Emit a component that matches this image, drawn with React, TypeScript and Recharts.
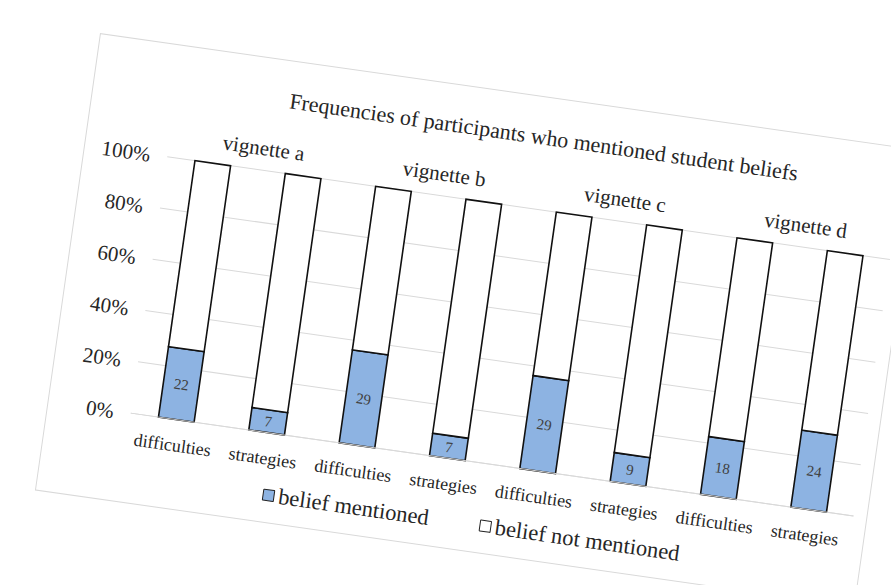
import { BarChart, Bar, XAxis, YAxis, CartesianGrid, LabelList, Legend } from "recharts";

const categories = [
  "difficulties", "strategies", "difficulties", "strategies",
  "difficulties", "strategies", "difficulties", "strategies",
];
const vignettes = [
  "vignette a", "vignette a", "vignette b", "vignette b",
  "vignette c", "vignette c", "vignette d", "vignette d",
];
// participant counts (out of 80)
const mentioned = [22, 7, 29, 7, 29, 9, 18, 24];
const notMentioned = [58, 73, 51, 73, 51, 71, 62, 56];
const yTicks = [0, 0.2, 0.4, 0.6, 0.8, 1];

const data = categories.map((c, i) => ({
  category: c,
  vignette: vignettes[i],
  mentioned: mentioned[i],
  notMentioned: notMentioned[i],
}));

const W = 828;
const H = 462;
const FONT = '"Liberation Serif", serif';
const BLUE = "#8db3e2";
const TEXT = "#262626";
const BAND = (W - 84 - 14) / categories.length;

const VignetteTick = (props: any) => {
  const { x, y, payload, index } = props;
  if (index % 2 !== 0) return <g />;
  return (
    <text x={x + BAND / 2 + 3} y={y} textAnchor="middle" fill={TEXT} fontSize={21} fontFamily={FONT}>
      {payload.value}
    </text>
  );
};

const renderLegend = () => (
  <div
    style={{
      display: "flex",
      alignItems: "center",
      fontFamily: FONT,
      fontSize: 22.5,
      color: TEXT,
      paddingLeft: 226,
    }}
  >
    <span style={{ width: 10, height: 10, background: BLUE, border: "1.5px solid #222", borderRadius: 1, marginRight: 4 }} />
    <span>belief mentioned</span>
    <span style={{ width: 10, height: 10, background: "#fff", border: "1.5px solid #222", borderRadius: 1, marginLeft: 51, marginRight: 4 }} />
    <span>belief not mentioned</span>
  </div>
);

export default function App() {
  return (
    <div
      style={{
        position: "absolute",
        left: 100,
        top: 33,
        width: W,
        height: H,
        transform: "rotate(8.1deg)",
        transformOrigin: "0 0",
        background: "#fff",
        border: "1px solid #d9d9d9",
        boxSizing: "border-box",
        fontFamily: FONT,
      }}
    >
      <div
        style={{
          position: "absolute",
          left: 0,
          width: 2 * 453,
          top: 26,
          textAlign: "center",
          fontSize: 22,
          color: TEXT,
          lineHeight: "28px",
          fontFamily: FONT,
        }}
      >
        Frequencies of participants who mentioned student beliefs
      </div>
      <div style={{ position: "absolute", left: -1, top: -1 }}>
        <BarChart
          width={W}
          height={H}
          data={data}
          stackOffset="expand"
          margin={{ top: 73, right: 14, bottom: 60, left: 0 }}
          style={{ fontFamily: FONT }}
        >
          <CartesianGrid vertical={false} stroke="#d9d9d9" />
          <XAxis
            xAxisId="top"
            orientation="top"
            dataKey="vignette"
            height={40}
            axisLine={false}
            tickLine={false}
            tickSize={0}
            tickMargin={15}
            interval={0}
            tick={<VignetteTick />}
          />
          <XAxis
            dataKey="category"
            interval={0}
            axisLine={{ stroke: "#d9d9d9" }}
            tickLine={false}
            tickSize={0}
            tickMargin={19}
            tick={{ fontSize: 18, fill: TEXT, fontFamily: FONT }}
          />
          <YAxis
            width={84}
            ticks={yTicks}
            domain={[0, 1]}
            axisLine={false}
            tickLine={false}
            tickSize={0}
            tickMargin={17}
            tickFormatter={(v: number) => `${Math.round(v * 100)}%`}
            tick={{ fontSize: 21, fill: TEXT, fontFamily: FONT }}
          />
          <Legend
            layout="horizontal"
            verticalAlign="middle"
            align="center"
            content={renderLegend}
            wrapperStyle={{ left: 0, top: 421, width: W }}
          />
          <Bar
            dataKey="mentioned"
            name="belief mentioned"
            stackId="a"
            fill={BLUE}
            stroke="#111"
            strokeWidth={1.6}
            barSize={36}
            isAnimationActive={false}
          >
            <LabelList dataKey="mentioned" position="center" fill="#404040" fontSize={15} fontFamily={FONT} />
          </Bar>
          <Bar
            dataKey="notMentioned"
            name="belief not mentioned"
            stackId="a"
            fill="#fff"
            stroke="#111"
            strokeWidth={1.6}
            barSize={36}
            isAnimationActive={false}
          />
        </BarChart>
      </div>
    </div>
  );
}
